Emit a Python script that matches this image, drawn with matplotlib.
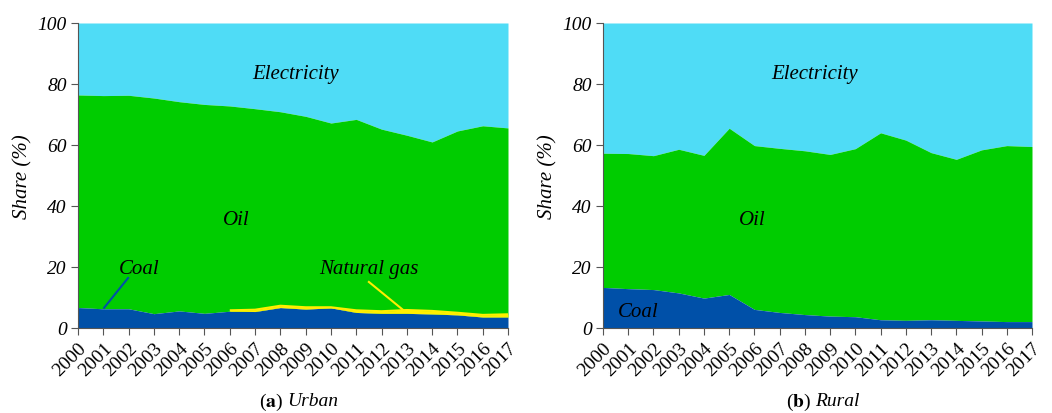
import numpy as np
import matplotlib; matplotlib.use("Agg"); import matplotlib.pyplot as plt

plt.rcParams["font.family"] = ["Liberation Serif", "DejaVu Serif"]
plt.rcParams["mathtext.fontset"] = "stix"

years = list(range(2000, 2018))
# Urban: top of each stacked layer (%)
urb_coal = [6.7, 6.3, 6.3, 4.7, 5.6, 4.8, 5.5, 5.4, 6.7, 6.2, 6.6, 5.1, 4.8, 4.8, 4.6, 4.3, 3.6, 3.6]
urb_gas_top = [None]*6 + [5.8, 6.0, 7.3, 6.8, 6.8, 5.8, 5.5, 5.9, 5.6, 5.0, 4.3, 4.5]
urb_oil_top = [76.4, 76.2, 76.3, 75.4, 74.2, 73.3, 72.8, 71.9, 70.9, 69.4, 67.2, 68.4, 65.2, 63.2, 61.0, 64.6, 66.3, 65.6]
# Rural
rur_coal = [13.3, 12.9, 12.6, 11.5, 9.8, 11.0, 6.1, 5.1, 4.4, 3.9, 3.7, 2.7, 2.5, 2.7, 2.5, 2.3, 2.1, 2.1]
rur_oil_top = [57.3, 57.2, 56.5, 58.6, 56.6, 65.5, 59.8, 58.9, 58.1, 56.9, 58.8, 64.0, 61.6, 57.5, 55.3, 58.4, 59.8, 59.5]

C_ELEC = "#4fdcf6"; C_OIL = "#00cc00"; C_COAL = "#0050a8"; C_GAS = "#ffee00"
FS = 15

fig = plt.figure(figsize=(10.52, 4.14), dpi=100)
axL = fig.add_axes([78/1052, 1-329/414, 430/1052, 305/414])
axR = fig.add_axes([603/1052, 1-329/414, 429/1052, 305/414])

def base(ax, coal, oil_top):
    x = np.array(years)
    ax.fill_between(x, oil_top, 100, color=C_ELEC, lw=0)
    ax.fill_between(x, coal, oil_top, color=C_OIL, lw=0)
    ax.fill_between(x, 0, coal, color=C_COAL, lw=0)
    ax.set_xlim(2000, 2017); ax.set_ylim(0, 100)
    ax.set_xticks(years)
    ax.set_xticklabels([str(y) for y in years], rotation=45, ha="right", rotation_mode="anchor", fontsize=14)
    ax.set_yticks(range(0, 101, 20))
    ax.set_yticklabels([str(v) for v in range(0, 101, 20)], fontsize=14, style="italic")
    for s in ["top", "right"]: ax.spines[s].set_visible(False)
    for s in ["left", "bottom"]: ax.spines[s].set_color("#555555")
    ax.tick_params(direction="out", length=5, color="#555555", pad=3)
    ax.set_ylabel("Share (%)", fontsize=FS, style="italic", labelpad=4)

base(axL, urb_coal, urb_oil_top)
gx = [y for y, g in zip(years, urb_gas_top) if g is not None]
gy = [g for g in urb_gas_top if g is not None]
gc = [c for c, g in zip(urb_coal, urb_gas_top) if g is not None]
axL.fill_between(gx, gc, gy, color=C_GAS, lw=0)
axL.plot(gx, gy, color=C_GAS, lw=1.5, solid_capstyle="butt")
axL.text(2008.6, 83.6, "Electricity", fontsize=FS, style="italic", ha="center", va="center")
axL.text(2006.25, 35.7, "Oil", fontsize=FS, style="italic", ha="center", va="center")
axL.text(2002.4, 19.5, "Coal", fontsize=FS, style="italic", ha="center", va="center")
axL.plot([2001.03, 2001.98], [6.6, 16.4], color=C_COAL, lw=1.5)
axL.text(2011.5, 19.5, "Natural gas", fontsize=FS, style="italic", ha="center", va="center")
axL.plot([2011.5, 2012.9], [15.1, 5.6], color=C_GAS, lw=1.5)

base(axR, rur_coal, rur_oil_top)
axR.text(2008.4, 83.6, "Electricity", fontsize=FS, style="italic", ha="center", va="center")
axR.text(2005.9, 35.7, "Oil", fontsize=FS, style="italic", ha="center", va="center")
axR.text(2001.4, 5.4, "Coal", fontsize=FS, style="italic", ha="center", va="center")

# sub-captions
for xc, tag, name in [(289, "a", "Urban"), (817, "b", "Rural")]:
    fig.text(xc/1052 - 0.006, 1-402/414, "(" + r"$\mathbf{" + tag + "}$" + ")", fontsize=14, ha="right", va="center")
    fig.text(xc/1052 - 0.002, 1-402/414, name, fontsize=14, style="italic", ha="left", va="center")

fig.savefig("out.png", dpi=100)
